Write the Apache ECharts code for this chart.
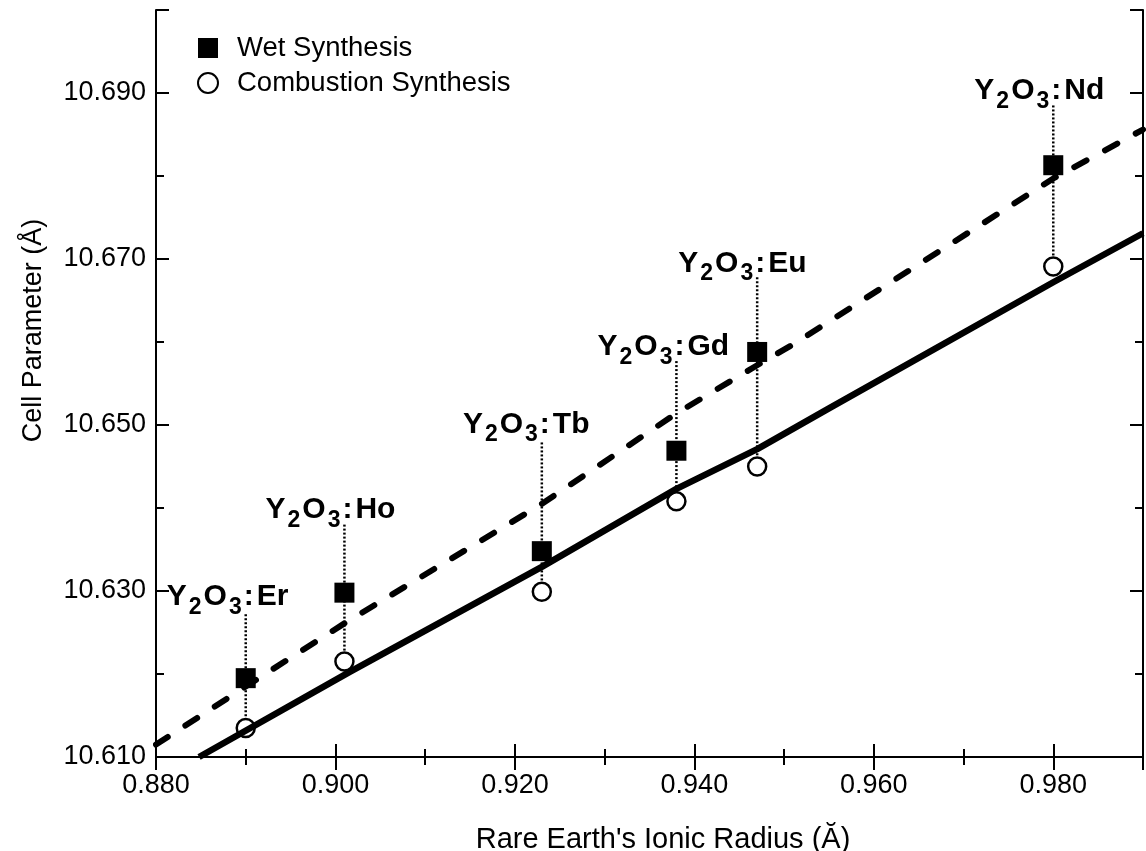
<!DOCTYPE html>
<html><head><meta charset="utf-8">
<script src="https://cdn.jsdelivr.net/npm/echarts@6/dist/echarts.min.js"></script>
<style>html,body{margin:0;background:#fff}#c{width:1146px;height:851px}</style>
</head><body><div id="c"></div>
<script>
const Y0 = 10.61;
const dopants = ['Er', 'Ho', 'Tb', 'Gd', 'Eu', 'Nd'];
const ionicRadius = [0.890, 0.901, 0.923, 0.938, 0.947, 0.980];
const wetSynthesis = [10.6195, 10.6298, 10.6348, 10.6469, 10.6588, 10.6813];
const combustionSynthesis = [10.6135, 10.6215, 10.6299, 10.6408, 10.6450, 10.6691];
const labelLevel = [10.6297, 10.6402, 10.6505, 10.6598, 10.6699, 10.6907];
const guideTop = [10.6272, 10.6380, 10.6479, 10.6577, 10.6678, 10.6885];
const wetFitX = [0.880, 0.890, 0.901, 0.923, 0.938, 0.947, 0.951, 0.980, 0.990];
const wetFitY = [10.6115, 10.6185, 10.6261, 10.6405, 10.6514, 10.6572, 10.6597, 10.6797, 10.6856];
const combFitX = [0.8848, 0.9015, 0.923, 0.938, 0.947, 0.955, 0.980, 0.990];
const combFitY = [10.6100, 10.6202, 10.6329, 10.6423, 10.6471, 10.6520, 10.6672, 10.6731];
const xTickLabels = ['0.880', '0.900', '0.920', '0.940', '0.960', '0.980'];
const yTickLabels = ['10.610', '10.630', '10.650', '10.670', '10.690'];

const FONT = 'Liberation Sans';
const chart = echarts.init(document.getElementById('c'), null, {renderer: 'canvas'});

function axisCommon() {
  return {
    axisLine: {show: true, lineStyle: {color: '#000', width: 2}},
    axisTick: {show: true, inside: true, length: 13, lineStyle: {color: '#000', width: 2}},
    minorTick: {show: true, splitNumber: 2, length: 8, lineStyle: {color: '#000', width: 2}},
    splitLine: {show: false},
    minorSplitLine: {show: false}
  };
}

const rich = {
  a: {fontFamily: FONT, fontSize: 30, fontWeight: 'bold', color: '#000', lineHeight: 37, verticalAlign: 'top', padding: [0, 1, 0, 1]},
  b: {fontFamily: FONT, fontSize: 23, fontWeight: 'bold', color: '#000', lineHeight: 37, verticalAlign: 'bottom', padding: [0, 1, 0, 1]}
};

const guideSeries = ionicRadius.map((x, i) => ({
  type: 'line', name: 'guide' + i, symbol: 'none', silent: true, z: 1,
  lineStyle: {color: '#000', width: 2.5, type: [2, 2]},
  data: [[x, guideTop[i] - Y0], [x, combustionSynthesis[i] - Y0]]
}));

function labelSeries(name, position, offset, formatter) {
  return {
    type: 'scatter', name: name, symbolSize: 0, z: 5, silent: true,
    itemStyle: {color: '#000', opacity: 1},
    label: {show: true, position: position, distance: 0, offset: offset, color: '#000',
      textBorderWidth: 0, formatter: formatter, rich: rich},
    data: ionicRadius.map((x, i) => [x, labelLevel[i] - Y0])
  };
}

const option = {
  animation: false,
  backgroundColor: '#fff',
  grid: {left: 156, right: 3, top: 10, bottom: 94, outerBoundsMode: 'none'},
  legend: {
    data: ['Wet Synthesis', 'Combustion Synthesis'],
    orient: 'vertical', left: 197, top: 34, padding: 0,
    itemWidth: 20, itemHeight: 20, itemGap: 7,
    textStyle: {fontFamily: FONT, fontSize: 27.5, color: '#000', padding: [0, 0, 0, 14]},
    selectedMode: false
  },
  xAxis: [
    Object.assign(axisCommon(), {
      type: 'value', position: 'bottom', min: 0.88, max: 0.99, interval: 0.02,
      axisLabel: {show: true, fontFamily: FONT, fontSize: 27, color: '#000', margin: 15, showMaxLabel: false,
        formatter: v => xTickLabels[Math.round((v - 0.88) / 0.02)] || ''},
      name: "Rare Earth's Ionic Radius (Ă)", nameLocation: 'middle', nameGap: 68,
      nameTextStyle: {fontFamily: FONT, fontSize: 29, color: '#000', padding: [0, 0, 0, 27]}
    }),
    Object.assign(axisCommon(), {
      type: 'value', position: 'top', min: 0.88, max: 0.99, interval: 0.02,
      axisLabel: {show: false}
    })
  ],
  yAxis: [
    Object.assign(axisCommon(), {
      type: 'value', position: 'left', min: 0, max: 0.09, interval: 0.02,
      axisLabel: {show: true, fontFamily: FONT, fontSize: 27, color: '#000', margin: 10, showMaxLabel: false,
        formatter: v => yTickLabels[Math.round(v / 0.02)] || ''},
      name: 'Cell Parameter (Å)', nameLocation: 'middle', nameGap: 109,
      nameTextStyle: {fontFamily: FONT, fontSize: 27, color: '#000', padding: [0, 0, 0, 106]}
    }),
    Object.assign(axisCommon(), {
      type: 'value', position: 'right', min: 0, max: 0.09, interval: 0.02,
      axisLabel: {show: false}
    })
  ],
  series: [
    ...guideSeries,
    {
      type: 'line', name: 'wetFit', symbol: 'none', z: 3, silent: true,
      lineStyle: {color: '#000', width: 6, type: [14, 21], cap: 'round'},
      data: wetFitX.map((x, i) => [x, wetFitY[i] - Y0])
    },
    {
      type: 'line', name: 'combFit', symbol: 'none', z: 3, silent: true,
      lineStyle: {color: '#000', width: 6.5},
      data: combFitX.map((x, i) => [x, combFitY[i] - Y0])
    },
    {
      type: 'scatter', name: 'Combustion Synthesis', symbol: 'circle', symbolSize: 18, z: 2,
      itemStyle: {color: '#fff', borderColor: '#000', borderWidth: 2.5, opacity: 1},
      data: ionicRadius.map((x, i) => [x, combustionSynthesis[i] - Y0])
    },
    {
      type: 'scatter', name: 'Wet Synthesis', symbol: 'rect', symbolSize: 20, z: 4,
      itemStyle: {color: '#000', opacity: 1},
      data: ionicRadius.map((x, i) => [x, wetSynthesis[i] - Y0])
    },
    labelSeries('labelLeft', 'left', [9, 7], '{a|Y}{b|2}{a|O}{b|3}{a|:}'),
    labelSeries('labelRight', 'right', [10, 7], p => '{a|' + dopants[p.dataIndex] + '}')
  ]
};
chart.setOption(option);
</script>
</body></html>
